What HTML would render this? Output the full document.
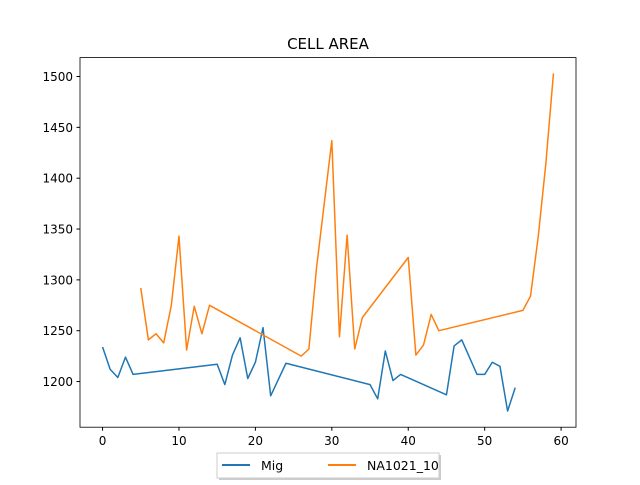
<!DOCTYPE html>
<html><head><meta charset="utf-8"><style>
body{margin:0;background:#fff;font-family:"Liberation Sans","DejaVu Sans",sans-serif}
svg text{font-family:"DejaVu Sans","Liberation Sans",sans-serif}
</style></head><body>
<svg id="c" width="640" height="480" xmlns="http://www.w3.org/2000/svg">
<rect width="640" height="480" fill="#fff"/>
<text x="328" y="49" text-anchor="middle" font-size="15">CELL AREA</text>
<g id="plot"></g>
<g>
<rect x="219" y="455" width="222" height="25" fill="#999" opacity="0.5"/>
<rect x="217" y="453" width="222" height="25" fill="#fff" stroke="#ccc"/>
<line x1="222" y1="465" x2="250" y2="465" stroke="#1f77b4" stroke-width="2"/>
<text x="261" y="470" font-size="12.5">Mig</text>
<line x1="328" y1="465" x2="356" y2="465" stroke="#ff7f0e" stroke-width="2"/>
<text x="367" y="470" font-size="12.5">NA1021_10</text>
</g>
</svg>
<script>
const migX=[0,1,2,3,4,15,16,17,18,19,20,21,22,24,35,36,37,38,39,45,46,47,49,50,51,52,53,54];
const migY=[1234,1212,1204,1224,1207,1217,1197,1226,1243,1203,1219,1253,1186,1218,1197,1183,1230,1201,1207,1187,1235,1241,1207,1207,1219,1215,1171,1194];
const naX=[5,6,7,8,9,10,11,12,13,14,26,27,28,30,31,32,33,34,40,41,42,43,44,55,56,57,58,59];
const naY=[1292,1241,1247,1238,1275,1343,1231,1274,1247,1275,1225,1232,1312,1437,1244,1344,1232,1263,1322,1226,1236,1266,1250,1270,1284,1342,1414,1503];
const xTicks=[0,10,20,30,40,50,60];
const yTicks=[1200,1250,1300,1350,1400,1450,1500];
const L=80,R=576,T=57.6,B=427.2;
const xMin=-2.95,xMax=61.95,yMin=1155.1,yMax=1518.6;
const sx=v=>L+(v-xMin)/(xMax-xMin)*(R-L);
const sy=v=>B-(v-yMin)/(yMax-yMin)*(B-T);
const NS="http://www.w3.org/2000/svg";
const g=document.getElementById('plot');
function mk(t,a){const e=document.createElementNS(NS,t);for(const k in a)e.setAttribute(k,a[k]);g.appendChild(e);return e;}
xTicks.forEach(v=>{
 const l=mk('line',{x1:sx(v),x2:sx(v),y1:B,y2:B+3.5,stroke:'#000'});
 
 
 const t=mk('text',{x:sx(v),y:B+18,'text-anchor':'middle','font-size':'12'});t.textContent=v;
 
 
});
yTicks.forEach(v=>{
 const l=mk('line',{x1:L-3.5,x2:L,y1:sy(v),y2:sy(v),stroke:'#000'});
 
 
 const t=mk('text',{x:L-7,y:sy(v)+4.5,'text-anchor':'end','font-size':'12'});t.textContent=v;
 
 
});
function line(xs,ys,c,n){
 const p=mk('polyline',{points:xs.map((x,i)=>sx(x)+','+sy(ys[i])).join(' '),fill:'none',stroke:c,'stroke-width':'1.5','stroke-linejoin':'round'});
 
 
}
line(migX,migY,'#1f77b4','series-mig');
line(naX,naY,'#ff7f0e','series-na1021-10');
const f=mk('rect',{x:L,y:T,width:R-L,height:B-T,fill:'none',stroke:'#000','stroke-width':'0.8'});


</script>
</body></html>
